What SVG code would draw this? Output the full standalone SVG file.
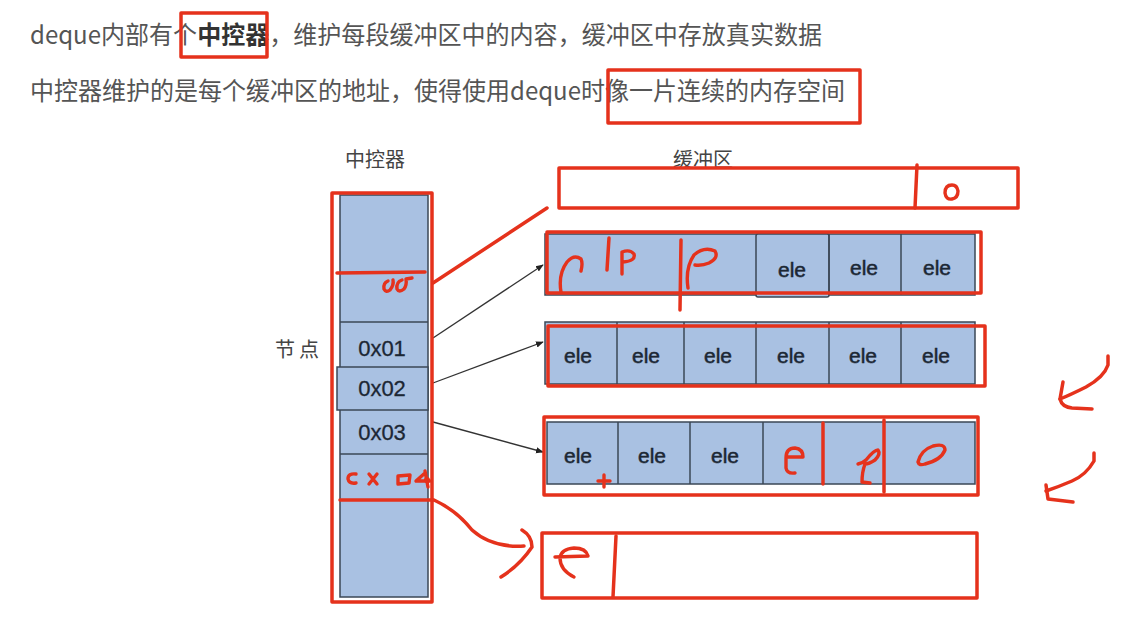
<svg xmlns="http://www.w3.org/2000/svg" width="1131" height="618" viewBox="0 0 1131 618">
  <style>
    .cap { font-family: "Noto Sans CJK SC", "Noto Sans", sans-serif; fill: #555; font-size: 24.5px; }
    .lbl { font-family: "Noto Sans CJK SC", "Noto Sans", sans-serif; fill: #444; font-size: 20px; }
    .addr { font-family: "Liberation Sans", Arial, sans-serif; fill: #1c2734; font-size: 22px; text-anchor: middle; stroke: #1c2734; stroke-width: 0.3; }
    .ele { font-family: "Liberation Sans", Arial, sans-serif; fill: #1c2734; font-size: 21px; text-anchor: middle; stroke: #1c2734; stroke-width: 0.5; }
    .cell { fill: #a9c1e2; stroke: #3b4756; stroke-width: 1.5; }
    .div { stroke: #3b4756; stroke-width: 1.5; }
    .mark { fill: none; stroke: #e5321c; stroke-width: 3.5; stroke-linecap: round; stroke-linejoin: round; }
    .ink { fill: none; stroke: #e5321c; stroke-width: 3.4; stroke-linecap: round; stroke-linejoin: round; }
    .link { stroke: #333; stroke-width: 1.3; fill: none; marker-end: url(#dot); }
  </style>
  <defs>
    <marker id="dot" viewBox="0 0 10 10" refX="9" refY="5" markerWidth="6" markerHeight="6" orient="auto">
      <path d="M0,1 L10,5 L0,9 z" fill="#222"/>
    </marker>
  </defs>
  <rect width="1131" height="618" fill="#ffffff"/>

  <!-- caption text -->
  <g id="caption">
    <text class="cap" x="30" y="44" textLength="792" lengthAdjust="spacingAndGlyphs">deque内部有个<tspan font-weight="bold" fill="#333">中控器</tspan>，维护每段缓冲区中的内容，缓冲区中存放真实数据</text>
    <text class="cap" x="30" y="100" textLength="815" lengthAdjust="spacingAndGlyphs">中控器维护的是每个缓冲区的地址，使得使用deque时像一片连续的内存空间</text>
    <rect class="mark" x="181" y="13" width="86" height="44" fill="none"/>
    <rect class="mark" x="608" y="70" width="252" height="53" fill="none"/>
  </g>

  <!-- map (controller) -->
  <g id="controller">
    <text class="lbl" x="345" y="167">中控器</text>
    <text class="lbl" x="275" y="357" letter-spacing="4">节点</text>
    <rect class="cell" x="340" y="195" width="88" height="402"/>
    <line class="div" x1="340" y1="322" x2="428" y2="322"/>
    <rect class="cell" x="337" y="367" width="91" height="43"/>
    <line class="div" x1="340" y1="454" x2="428" y2="454"/>
    <text class="addr" x="382" y="356">0x01</text>
    <text class="addr" x="382" y="396">0x02</text>
    <text class="addr" x="382" y="440">0x03</text>
  </g>

  <!-- buffers -->
  <g id="buffer-label">
    <text class="lbl" x="673" y="167">缓冲区</text>
  </g>

  <g id="buffer1">
    <rect class="cell" x="545" y="234" width="430" height="61"/>
    <rect class="cell" x="756" y="234" width="73" height="63" rx="2"/>
    <line class="div" x1="829" y1="234" x2="829" y2="295"/>
    <line class="div" x1="901" y1="234" x2="901" y2="295"/>
    <text class="ele" x="792" y="277">ele</text>
    <text class="ele" x="864" y="275">ele</text>
    <text class="ele" x="937" y="275">ele</text>
  </g>

  <g id="buffer2">
    <rect class="cell" x="545" y="322" width="430" height="62"/>
    <line class="div" x1="617" y1="322" x2="617" y2="384"/>
    <line class="div" x1="684" y1="322" x2="684" y2="384"/>
    <line class="div" x1="756" y1="322" x2="756" y2="384"/>
    <line class="div" x1="829" y1="322" x2="829" y2="384"/>
    <line class="div" x1="901" y1="322" x2="901" y2="384"/>
    <text class="ele" x="578" y="363">ele</text>
    <text class="ele" x="646" y="363">ele</text>
    <text class="ele" x="718" y="363">ele</text>
    <text class="ele" x="791" y="363">ele</text>
    <text class="ele" x="863" y="363">ele</text>
    <text class="ele" x="936" y="363">ele</text>
  </g>

  <g id="buffer3">
    <rect class="cell" x="547" y="422" width="428" height="62"/>
    <line class="div" x1="618" y1="422" x2="618" y2="484"/>
    <line class="div" x1="690" y1="422" x2="690" y2="484"/>
    <line class="div" x1="763" y1="422" x2="763" y2="484"/>
    <text class="ele" x="578" y="463">ele</text>
    <text class="ele" x="652" y="463">ele</text>
    <text class="ele" x="725" y="463">ele</text>
  </g>

  <!-- pointers from map to buffers -->
  <g id="connectors">
    <line class="link" x1="433" y1="338" x2="543" y2="265"/>
    <line class="link" x1="433" y1="383" x2="543" y2="342"/>
    <line class="link" x1="433" y1="422" x2="543" y2="452"/>
  </g>

  <!-- hand annotations -->
  <g id="annotations">
    <!-- controller outline and new slots -->
    <rect class="mark" x="332" y="193" width="100" height="409"/>
    <line class="mark" x1="337" y1="273" x2="425" y2="272"/>
    <path class="ink" d="M388,281 q-5,2 -4,8 q2,4 6,1 q4,-5 3,-10 M402,280 q-6,2 -5,9 q2,4 7,0 q3,-4 2,-10 l6,-1"/>
    <line class="mark" x1="433" y1="283" x2="547" y2="208"/>
    <line class="mark" x1="340" y1="500" x2="433" y2="500"/>
    <path class="ink" d="M356,474 q-8,-1 -8,5 q1,5 8,4 M369,474 l8,10 M377,474 l-8,10 M398,476 l12,-1 l-1,8 l-11,1 z M425,473 l-9,8 l14,0 M425,471 l3,16"/>
    <circle cx="427" cy="480" r="3" fill="#e5321c"/>
    <path class="mark" d="M434,500 q22,10 38,30 q20,18 52,16"/>
    <path class="mark" d="M522,530 q10,6 10,17 q-12,18 -31,30"/>

    <!-- buffer outlines -->
    <rect class="mark" x="559" y="168" width="459" height="40" fill="none"/>
    <path class="mark" d="M917,165 l-2,43"/>
    <path class="ink" d="M952,185 q-7,0 -7,8 q1,7 7,6 q6,-1 6,-8 q-1,-6 -6,-6"/>

    <rect class="mark" x="547" y="232" width="434" height="61" fill="none"/>
    <path class="ink" d="M561,292 q-3,-18 6,-30 q7,-8 14,-3 q2,4 0,12"/>
    <line class="mark" x1="609" y1="238" x2="607" y2="270"/>
    <path class="ink" d="M622,274 l0,-22 q8,-3 12,2 q2,7 -11,8"/>
    <line class="mark" x1="681" y1="240" x2="680" y2="310"/>
    <path class="ink" d="M688,288 q-3,-20 6,-33 q10,-9 21,-4 q4,7 -6,12 q-7,3 -14,2"/>

    <rect class="mark" x="548" y="326" width="437" height="60" fill="none"/>

    <rect class="mark" x="544" y="417" width="434" height="78" fill="none"/>
    <line class="mark" x1="823" y1="423" x2="823" y2="484"/>
    <line class="mark" x1="884" y1="420" x2="884" y2="492"/>
    <path class="ink" d="M786,457 l17,0 q0,-8 -8,-9 q-9,0 -9,10 l0,10 q1,6 9,5"/>
    <path class="ink" d="M858,464 q5,-1 8,-4 q8,-10 12,-10 q3,4 -3,10 q-6,4 -10,4 q-3,8 -3,18 l8,1"/>
    <path class="ink" d="M918,462 q3,-12 15,-16 q12,-3 12,4 q-4,10 -20,14 q-6,2 -7,-2 z"/>
    <path class="ink" d="M598,481 l12,0 M604,475 l0,12" stroke-width="2"/>

    <rect class="mark" x="542" y="533" width="435" height="65" fill="none"/>
    <path class="ink" d="M555,557 l33,-1 q-2,-8 -14,-8 q-13,1 -14,10 q0,12 14,19"/>
    <line class="mark" x1="616" y1="536" x2="613" y2="597"/>

    <!-- arrows on the right -->
    <path class="mark" d="M1108,356 l0,9 q-4,12 -22,22 q-16,8 -26,12"/>
    <path class="mark" d="M1063,382 l-3,17 q2,8 12,9 l20,1"/>
    <path class="mark" d="M1094,453 l0,8 q-8,14 -22,20 q-14,6 -26,10"/>
    <path class="mark" d="M1046,485 l2,14 l25,3"/>
  </g>
</svg>
